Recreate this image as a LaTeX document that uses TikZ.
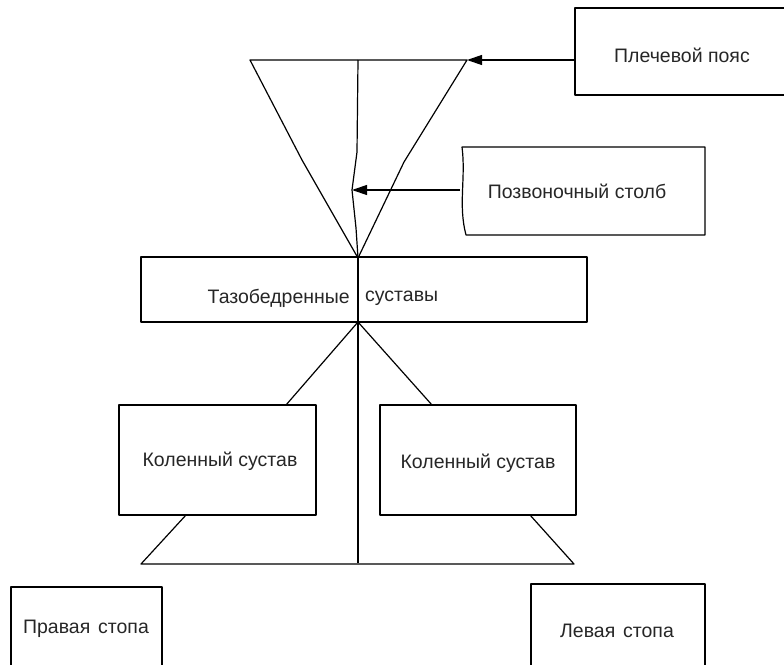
\documentclass[tikz,border=0pt]{standalone}
\usepackage{fontspec}
\setmainfont{Liberation Sans}
\usetikzlibrary{arrows.meta}
\begin{document}
\begin{tikzpicture}[x=1pt,y=-1pt,
  ln/.style={line width=1.2pt, line join=round},
  box/.style={ln, draw=black},
  lbl/.style={font=\fontsize{19.5}{22}\selectfont, inner sep=0pt, text=black!85},
  arr/.style={ln, -{Triangle[length=15pt,width=10pt]}}]
\useasboundingbox (0,0) rectangle (784,664);
\clip (0,0) rectangle (784,664);
% boxes
\draw[box] (575,8) rectangle (800,95);
\node[lbl] (shoulder) at (682,55) {Плечевой пояс};
\draw[box] (462,147) -- (705,147) -- (705,235) -- (466,235)
   .. controls (458,205) and (466,178) .. cycle;
\node[lbl] (spinebox) at (577,191) {Позвоночный столб};
\draw[box] (141,257) rectangle (587,322);
\node[lbl, anchor=east] (hipA) at (350,298) {Тазобедренные};
\node[lbl, anchor=west] (hipB) at (365,298) {суставы};
\draw[box] (119,405) rectangle (316,515);
\node[lbl] (kneeL) at (220,461) {Коленный сустав};
\draw[box] (380,405) rectangle (576,515);
\node[lbl] (kneeR) at (478,463) {Коленный сустав};
\draw[box] (11,587) rectangle (162,680);
\node[lbl] (footR) at (86,629) {Правая\hspace{0.4em}стопа};
\draw[box] (531,584) rectangle (705,680);
\node[lbl] (footL) at (617,631) {Левая\hspace{0.4em}стопа};
% coordinates
\coordinate (tl) at (250,60);
\coordinate (tr) at (467,60);
\coordinate (apex) at (358,258);
\coordinate (stop) at (358,60);
\coordinate (sarr) at (352,190);
\coordinate (shR) at (575,60);
\coordinate (spL) at (460,190);
\coordinate (hipbot) at (358,322);
\coordinate (kLt) at (286,405);
\coordinate (kRt) at (432,405);
\coordinate (bot) at (358,563);
\coordinate (kLb) at (186,515);
\coordinate (kRb) at (530,515);
\coordinate (pl) at (141,564);
\coordinate (pr) at (574,564);
% triangle (shoulder girdle)
\draw[ln] (apex) -- (302,160) -- (tl) -- (tr) -- (404,162) -- (apex);
% spine
\draw[ln] (stop) -- (357,152) -- (sarr) -- (356,228) -- (apex);
\draw[ln] (apex) -- (bot);
% arrows
\draw[arr] (shR) -- (tr);
\draw[arr] (spL) -- (sarr);
% legs
\draw[ln] (kLt) -- (hipbot) -- (kRt);
\draw[ln] (kLb) -- (pl) -- (pr) -- (kRb);
\end{tikzpicture}
\end{document}
